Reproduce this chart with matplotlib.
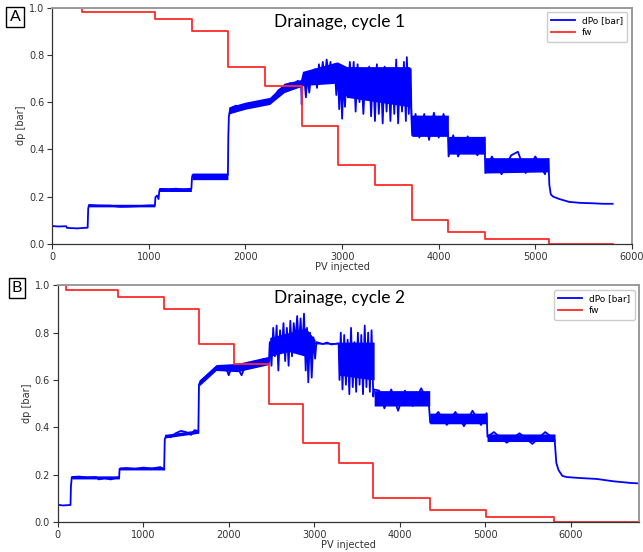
import numpy as np
import matplotlib
matplotlib.use('Agg')
import matplotlib.pyplot as plt

# ---- cycle 1 (panel A) ----
fw_pv_a = [0, 304, 1066, 1446, 1822, 2202, 2582, 2958, 3341, 3720, 4100, 4479, 5142, 5807]
fw_a = [1.0, 0.98, 0.95, 0.90, 0.75, 0.667, 0.50, 0.333, 0.25, 0.10, 0.05, 0.02, 0.002, 0.002]

pv_a = [0, 60, 145, 152, 260, 366, 372, 380, 480, 600, 700, 800, 900, 1000, 1062, 1068,
        1085, 1100, 1108, 1115, 1200, 1280, 1360, 1440, 1446, 1452, 1520, 1580, 1640, 1700,
        1760, 1818, 1822, 1828, 1850, 1900, 1960, 2020, 2080, 2140, 2200, 2250, 2300, 2340,
        2380, 2420, 2460, 2500, 2540, 2575, 2582, 2590, 2610, 2625, 2640, 2660, 2680, 2700,
        2720, 2740, 2760, 2780, 2800, 2820, 2840, 2860, 2880, 2900, 2920, 2940, 2955, 2970,
        2985, 3000, 3015, 3030, 3045, 3060, 3080, 3100, 3120, 3140, 3160, 3180, 3200, 3220,
        3240, 3260, 3280, 3300, 3320, 3340, 3360, 3380, 3400, 3420, 3440, 3460, 3480, 3500,
        3520, 3540, 3560, 3580, 3600, 3620, 3640, 3660, 3670, 3690, 3710, 3718, 3725, 3760,
        3800, 3850, 3900, 3950, 4000, 4050, 4095, 4102, 4150, 4200, 4300, 4400, 4475, 4482,
        4550, 4650, 4750, 4820, 4900, 5000, 5100, 5135, 5145, 5160, 5185, 5250, 5350, 5460,
        5600, 5700, 5800]
dp_a = [0.076, 0.074, 0.075, 0.068, 0.066, 0.069, 0.150, 0.165, 0.163, 0.162, 0.157, 0.158,
        0.160, 0.163, 0.163, 0.198, 0.205, 0.190, 0.225, 0.233, 0.230, 0.234, 0.228, 0.234,
        0.280, 0.292, 0.285, 0.292, 0.285, 0.292, 0.286, 0.292, 0.450, 0.540, 0.575, 0.585,
        0.578, 0.590, 0.585, 0.598, 0.595, 0.610, 0.620, 0.650, 0.660, 0.670, 0.680, 0.675,
        0.690, 0.680, 0.590, 0.680, 0.700, 0.620, 0.710, 0.640, 0.720, 0.680, 0.740, 0.660,
        0.760, 0.700, 0.770, 0.690, 0.780, 0.720, 0.770, 0.680, 0.760, 0.630, 0.740, 0.570,
        0.720, 0.530, 0.700, 0.580, 0.730, 0.620, 0.770, 0.640, 0.770, 0.560, 0.760, 0.600,
        0.720, 0.550, 0.710, 0.670, 0.750, 0.540, 0.740, 0.520, 0.760, 0.550, 0.730, 0.510,
        0.750, 0.560, 0.720, 0.520, 0.740, 0.550, 0.780, 0.510, 0.730, 0.560, 0.770, 0.520,
        0.790, 0.550, 0.740, 0.530, 0.460, 0.550, 0.450, 0.550, 0.440, 0.555, 0.450, 0.550,
        0.470, 0.370, 0.460, 0.370, 0.455, 0.375, 0.450, 0.300, 0.370, 0.295, 0.375, 0.390,
        0.300, 0.370, 0.295, 0.360, 0.250, 0.210, 0.200, 0.190, 0.178, 0.174, 0.172, 0.170,
        0.170]

band_pv_a = [375, 1062, 1062, 1110, 1110, 1440, 1440, 1448, 1448, 1818, 1818, 1828, 2000, 2250,
             2400, 2570, 2590, 2950, 3050, 3700, 3722, 4100, 4100, 4480, 4480, 5140]
band_lo_a = [0.157, 0.157, 0.20, 0.20, 0.222, 0.222, 0.29, 0.29, 0.272, 0.272, 0.55, 0.55,
             0.57, 0.59, 0.64, 0.665, 0.67, 0.68, 0.62, 0.58, 0.455, 0.455, 0.38, 0.38, 0.30, 0.305]
band_hi_a = [0.168, 0.168, 0.20, 0.20, 0.238, 0.238, 0.29, 0.29, 0.300, 0.300, 0.55, 0.58,
             0.60, 0.62, 0.68, 0.695, 0.73, 0.77, 0.75, 0.75, 0.545, 0.545, 0.455, 0.455, 0.365, 0.365]

# ---- cycle 2 (panel B) ----
fw_pv_b = [0, 93, 706, 1243, 1650, 2058, 2466, 2874, 3290, 3690, 4351, 5012, 5808, 6800]
fw_b = [1.0, 0.98, 0.95, 0.90, 0.75, 0.667, 0.50, 0.333, 0.25, 0.10, 0.05, 0.02, 0.002, 0.002]

pv_b = [0, 60, 150, 155, 165, 250, 350, 450, 480, 550, 620, 700, 718, 724, 800, 900, 1000,
        1100, 1200, 1245, 1252, 1270, 1320, 1380, 1440, 1500, 1560, 1600, 1645, 1652, 1670,
        1720, 1780, 1853, 1900, 1960, 2000, 2040, 2100, 2150, 2200, 2260, 2320, 2380, 2440,
        2470, 2480, 2500, 2520, 2540, 2560, 2580, 2600, 2620, 2640, 2660, 2680, 2700, 2720,
        2740, 2760, 2780, 2800, 2820, 2840, 2860, 2880, 2900, 2915, 2930, 2950, 2970, 2990,
        3010, 3025, 3100, 3150, 3200, 3285, 3295, 3310, 3330, 3350, 3370, 3390, 3410, 3430,
        3450, 3470, 3490, 3510, 3530, 3550, 3570, 3590, 3610, 3630, 3650, 3670, 3690, 3700,
        3760, 3820, 3900, 3980, 4060, 4150, 4250, 4340, 4355, 4450, 4550, 4650, 4750, 4850,
        4950, 5015, 5025, 5100, 5250, 5400, 5550, 5700, 5810, 5830, 5855, 5900, 5950, 6100,
        6300, 6500, 6700, 6800]
dp_b = [0.073, 0.070, 0.072, 0.150, 0.190, 0.192, 0.188, 0.190, 0.180, 0.185, 0.180, 0.188,
        0.185, 0.225, 0.228, 0.224, 0.230, 0.226, 0.232, 0.222, 0.350, 0.365, 0.358, 0.375,
        0.385, 0.380, 0.368, 0.388, 0.385, 0.580, 0.595, 0.610, 0.630, 0.655, 0.650, 0.660,
        0.620, 0.660, 0.655, 0.620, 0.665, 0.670, 0.675, 0.685, 0.690, 0.680, 0.760, 0.660,
        0.820, 0.700, 0.830, 0.640, 0.810, 0.720, 0.840, 0.680, 0.820, 0.660, 0.850, 0.700,
        0.840, 0.760, 0.870, 0.740, 0.860, 0.720, 0.880, 0.640, 0.820, 0.590, 0.800, 0.610,
        0.780, 0.690, 0.760, 0.752, 0.758, 0.750, 0.755, 0.600, 0.800, 0.560, 0.790, 0.580,
        0.770, 0.540, 0.820, 0.570, 0.760, 0.550, 0.800, 0.580, 0.790, 0.540, 0.830, 0.570,
        0.800, 0.550, 0.810, 0.530, 0.560, 0.555, 0.480, 0.560, 0.470, 0.555, 0.490, 0.565,
        0.500, 0.420, 0.465, 0.410, 0.465, 0.405, 0.470, 0.410, 0.460, 0.360, 0.380, 0.335,
        0.375, 0.330, 0.380, 0.350, 0.250, 0.220, 0.195, 0.190, 0.186, 0.182, 0.172, 0.165,
        0.163]

band_pv_b = [165, 720, 720, 1250, 1250, 1650, 1655, 1853, 2100, 2470, 2480, 2700, 2900, 3010,
             3010, 3290, 3290, 3700, 3700, 4350, 4350, 5020, 5020, 5815]
band_lo_b = [0.182, 0.182, 0.220, 0.220, 0.355, 0.375, 0.575, 0.64, 0.635, 0.665, 0.70, 0.72,
             0.70, 0.72, 0.752, 0.752, 0.62, 0.60, 0.49, 0.49, 0.415, 0.415, 0.34, 0.34]
band_hi_b = [0.195, 0.195, 0.232, 0.232, 0.370, 0.390, 0.60, 0.665, 0.67, 0.70, 0.78, 0.80,
             0.82, 0.77, 0.758, 0.758, 0.76, 0.76, 0.555, 0.555, 0.46, 0.46, 0.372, 0.372]

panels = [
    ('A', 'Drainage, cycle 1', pv_a, dp_a, band_pv_a, band_lo_a, band_hi_a, fw_pv_a, fw_a, 6000,
     [0.0813, 0.558, 0.9015, 0.4284], (15, 17), 22),
    ('B', 'Drainage, cycle 2', pv_b, dp_b, band_pv_b, band_lo_b, band_hi_b, fw_pv_b, fw_b, 6800,
     [0.0897, 0.0543, 0.9045, 0.4289], (17, 288), 298),
]

fig = plt.figure(figsize=(6.43, 5.52), dpi=100)
W, H = 643, 552

for lab, title, pv, dp, bx, blo, bhi, fx, fy, xmax, rect, labpos, ty in panels:
    ax = fig.add_axes(rect)
    ax.fill_between(bx, blo, bhi, color='blue', linewidth=0)
    ax.plot(pv, dp, color='blue', lw=1.3, label='dPo [bar]')
    ax.step(fx, fy, where='post', color='#ff2a2a', lw=1.3, label='fw')
    ax.set_xlim(0, xmax)
    ax.set_ylim(0, 1)
    ax.set_yticks([0, 0.2, 0.4, 0.6, 0.8, 1.0])
    ax.set_xticks(range(0, xmax + 1, 1000))
    ax.set_xlabel('PV injected', fontsize=7, color='#333333', labelpad=0)
    ax.set_ylabel('dp [bar]', fontsize=7, color='#333333', labelpad=2)
    ax.tick_params(labelsize=7, colors='#333333', length=3.5, width=0.8, pad=2)
    for s in ['left', 'bottom']:
        ax.spines[s].set_color('#333333')
        ax.spines[s].set_linewidth(0.9)
    for s in ['top', 'right']:
        ax.spines[s].set_color('#9a9a9a')
        ax.spines[s].set_linewidth(1.4)
    ax.legend(loc='upper right', fontsize=6.5, handlelength=2.6, borderpad=0.5,
              labelspacing=0.3, framealpha=1, edgecolor='#cccccc', fancybox=True)
    fig.text(340 / W, 1 - ty / H, title, ha='center', va='center',
             fontsize=12.5, family='Lato')
    fig.text(labpos[0] / W, 1 - labpos[1] / H, lab, ha='center', va='center',
             fontsize=11.5, family='Lato',
             bbox=dict(boxstyle='square,pad=0.2', fc='white', ec='black', lw=1))

fig.savefig('out.png', dpi=100)
